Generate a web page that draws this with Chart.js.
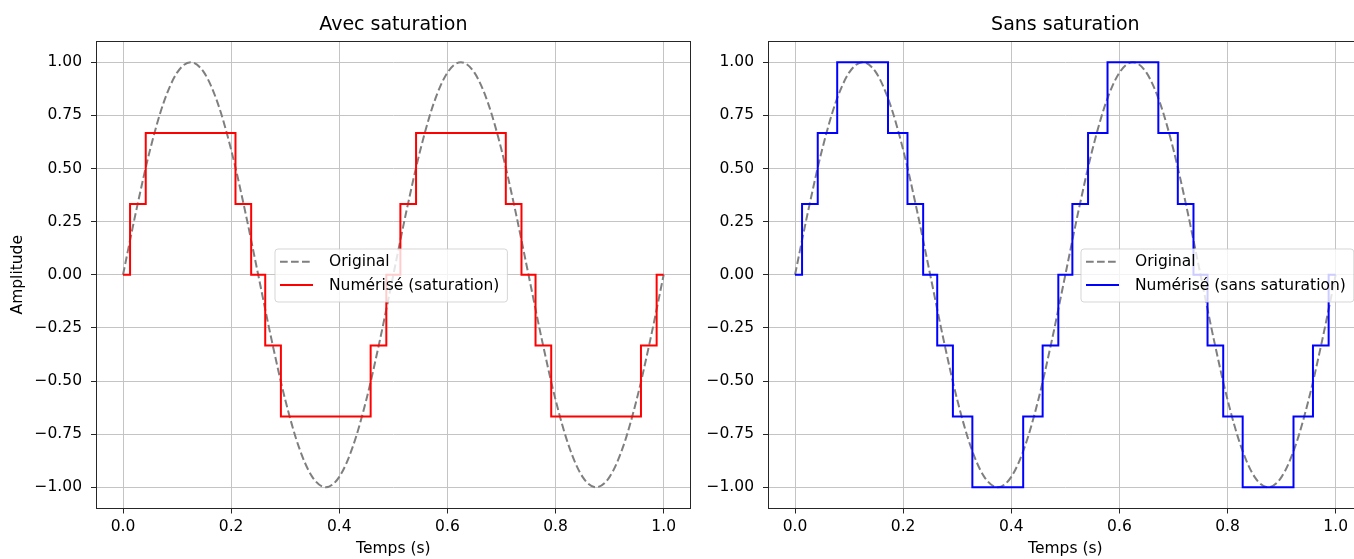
<!DOCTYPE html>
<html>
<head>
<meta charset="utf-8">
<script src="https://cdn.jsdelivr.net/npm/chart.js@4"></script>
<style>
  html, body { margin: 0; padding: 0; background: #fff; overflow: hidden; width: 1354px; height: 559px; }
  canvas { position: absolute; top: 0; }
  #left { left: 0; }
  #right { left: 672px; }
</style>
</head>
<body>
<canvas id="left" width="700" height="559"></canvas>
<canvas id="right" width="700" height="559"></canvas>
<script>
// Axis ticks
const xTickValues = [0, 0.2, 0.4, 0.6, 0.8, 1.0];
const xTickLabels = ['0.0', '0.2', '0.4', '0.6', '0.8', '1.0'];
const yTickValues = [-1, -0.75, -0.5, -0.25, 0, 0.25, 0.5, 0.75, 1];
const yTickLabels = ['\u22121.00', '\u22120.75', '\u22120.50', '\u22120.25', '0.00', '0.25', '0.50', '0.75', '1.00'];

// Original analog signal (2 Hz sine), sampled every 0.025 s
const timeOriginal = [
  0, 0.025, 0.05, 0.075, 0.1, 0.125, 0.15, 0.175, 0.2, 0.225,
  0.25, 0.275, 0.3, 0.325, 0.35, 0.375, 0.4, 0.425, 0.45, 0.475,
  0.5, 0.525, 0.55, 0.575, 0.6, 0.625, 0.65, 0.675, 0.7, 0.725,
  0.75, 0.775, 0.8, 0.825, 0.85, 0.875, 0.9, 0.925, 0.95, 0.975, 1.0
];
const ampOriginal = [
  0, 0.309, 0.588, 0.809, 0.951, 1, 0.951, 0.809, 0.588, 0.309,
  0, -0.309, -0.588, -0.809, -0.951, -1, -0.951, -0.809, -0.588, -0.309,
  0, 0.309, 0.588, 0.809, 0.951, 1, 0.951, 0.809, 0.588, 0.309,
  0, -0.309, -0.588, -0.809, -0.951, -1, -0.951, -0.809, -0.588, -0.309, 0
];

// Quantized signal, clipped at +/-2/3 (start time of each level)
const satTimes = [0, 0.013, 0.042, 0.208, 0.237, 0.263, 0.292, 0.458, 0.487,
  0.513, 0.542, 0.708, 0.737, 0.763, 0.792, 0.958, 0.987, 1.0];
const satLevels = [0, 0.333, 0.667, 0.333, 0, -0.333, -0.667, -0.333, 0,
  0.333, 0.667, 0.333, 0, -0.333, -0.667, -0.333, 0, 0];

// Quantized signal, full range
const fullTimes = [0, 0.013, 0.042, 0.078, 0.172, 0.208, 0.237, 0.263, 0.292, 0.328,
  0.422, 0.458, 0.487, 0.513, 0.542, 0.578, 0.672, 0.708, 0.737, 0.763,
  0.792, 0.828, 0.922, 0.958, 0.987, 1.0];
const fullLevels = [0, 0.333, 0.667, 1, 0.667, 0.333, 0, -0.333, -0.667, -1,
  -0.667, -0.333, 0, 0.333, 0.667, 1, 0.667, 0.333, 0, -0.333,
  -0.667, -1, -0.667, -0.333, 0, 0];

const FAMILY = '"DejaVu Sans", sans-serif';
const TEXT = '#000';
const GRID = '#c4c4c4';
const SPINE = '#262626';
const ORIGINAL_COLOR = '#7f7f7f';

function points(xs, ys) {
  return xs.map((x, i) => ({ x: x, y: ys[i] }));
}

// Draws the full axes frame and an in-plot legend box
const frameLegend = {
  id: 'frameLegend',
  afterDatasetsDraw(chart, args, opts) {
    const { ctx, chartArea: a } = chart;
    ctx.save();
    ctx.strokeStyle = SPINE;
    ctx.lineWidth = 1;
    const l = Math.round(a.left) + 0.5, t = Math.round(a.top) + 0.5;
    const r = Math.round(a.right) - 0.5, b = Math.round(a.bottom) - 0.5;
    ctx.strokeRect(l, t, r - l, b - t);

    const items = opts.items || [];
    ctx.font = '15.5px ' + FAMILY;
    const textW = Math.max(...items.map(it => ctx.measureText(it.label).width));
    const x0 = a.left + opts.dx, y0 = a.top + opts.dy;
    const w = 54 + textW + 8, h = 53, rad = 3;
    ctx.beginPath();
    ctx.moveTo(x0 + rad, y0);
    ctx.lineTo(x0 + w - rad, y0);
    ctx.arcTo(x0 + w, y0, x0 + w, y0 + rad, rad);
    ctx.lineTo(x0 + w, y0 + h - rad);
    ctx.arcTo(x0 + w, y0 + h, x0 + w - rad, y0 + h, rad);
    ctx.lineTo(x0 + rad, y0 + h);
    ctx.arcTo(x0, y0 + h, x0, y0 + h - rad, rad);
    ctx.lineTo(x0, y0 + rad);
    ctx.arcTo(x0, y0, x0 + rad, y0, rad);
    ctx.closePath();
    ctx.fillStyle = 'rgba(255,255,255,0.8)';
    ctx.fill();
    ctx.strokeStyle = 'rgba(204,204,204,0.8)';
    ctx.lineWidth = 1;
    ctx.stroke();

    items.forEach((it, k) => {
      const cy = y0 + 12.7 + k * 23.3;
      ctx.strokeStyle = it.color;
      ctx.lineWidth = 2;
      ctx.setLineDash(it.dash || []);
      ctx.beginPath();
      ctx.moveTo(x0 + 5, cy);
      ctx.lineTo(x0 + 38, cy);
      ctx.stroke();
      ctx.setLineDash([]);
      ctx.fillStyle = TEXT;
      ctx.textBaseline = 'middle';
      ctx.textAlign = 'left';
      ctx.fillText(it.label, x0 + 54, cy + 0.5);
    });
    ctx.restore();
  }
};

function makeChart(id, title, stepTimes, stepLevels, color, stepLabel, showYTitle, legendDx) {
  const tickFont = { family: FAMILY, size: 15.5 };
  return new Chart(document.getElementById(id), {
    type: 'line',
    data: {
      datasets: [
        {
          label: 'Original',
          data: points(timeOriginal, ampOriginal),
          borderColor: ORIGINAL_COLOR,
          borderWidth: 2,
          borderDash: [7.7, 3.3],
          pointRadius: 0,
          fill: false,
          cubicInterpolationMode: 'monotone',
          order: 2
        },
        {
          label: stepLabel,
          data: points(stepTimes, stepLevels),
          borderColor: color,
          borderWidth: 2,
          pointRadius: 0,
          fill: false,
          stepped: true,
          order: 1
        }
      ]
    },
    options: {
      responsive: false,
      animation: false,
      devicePixelRatio: 1,
      events: [],
      layout: { padding: { left: 0, right: 9.3, top: 0, bottom: 0 } },
      plugins: {
        legend: { display: false },
        tooltip: { enabled: false },
        title: {
          display: true,
          fullSize: false,
          text: title,
          color: TEXT,
          font: { family: FAMILY, size: 19, weight: 'normal' },
          padding: { top: 13.7, bottom: 4.5 }
        },
        frameLegend: {
          dx: legendDx,
          dy: 208,
          items: [
            { label: 'Original', color: ORIGINAL_COLOR, dash: [7.7, 3.3] },
            { label: stepLabel, color: color }
          ]
        }
      },
      scales: {
        x: {
          type: 'linear',
          min: -0.05,
          max: 1.05,
          afterBuildTicks: s => { s.ticks = xTickValues.map(v => ({ value: v })); },
          afterFit: s => { s.height = 50.5; },
          ticks: {
            callback: (v, i) => xTickLabels[i],
            color: TEXT, font: tickFont, padding: 4.5,
            maxRotation: 0, autoSkip: false
          },
          grid: { color: GRID, lineWidth: 1, tickLength: 5, tickColor: SPINE, tickWidth: 1 },
          border: { display: false },
          title: {
            display: true, text: 'Temps (s)', color: TEXT, font: tickFont,
            padding: { top: 0, bottom: 0.5 }
          }
        },
        y: {
          type: 'linear',
          min: -1.1,
          max: 1.1,
          afterBuildTicks: s => { s.ticks = yTickValues.map(v => ({ value: v })); },
          afterFit: s => { s.width = 96; },
          ticks: {
            callback: (v, i) => yTickLabels[i],
            color: TEXT, font: tickFont, padding: 9, autoSkip: false
          },
          grid: { color: GRID, lineWidth: 1, tickLength: 5, tickColor: SPINE, tickWidth: 1 },
          border: { display: false },
          title: {
            display: showYTitle, text: 'Amplitude', color: TEXT, font: tickFont,
            padding: { top: 9, bottom: 0 }
          }
        }
      }
    },
    plugins: [frameLegend]
  });
}

makeChart('left', 'Avec saturation', satTimes, satLevels, '#ff0000',
  'Numérisé (saturation)', true, 179);
makeChart('right', 'Sans saturation', fullTimes, fullLevels, '#0000ff',
  'Numérisé (sans saturation)', false, 313);
</script>
</body>
</html>
